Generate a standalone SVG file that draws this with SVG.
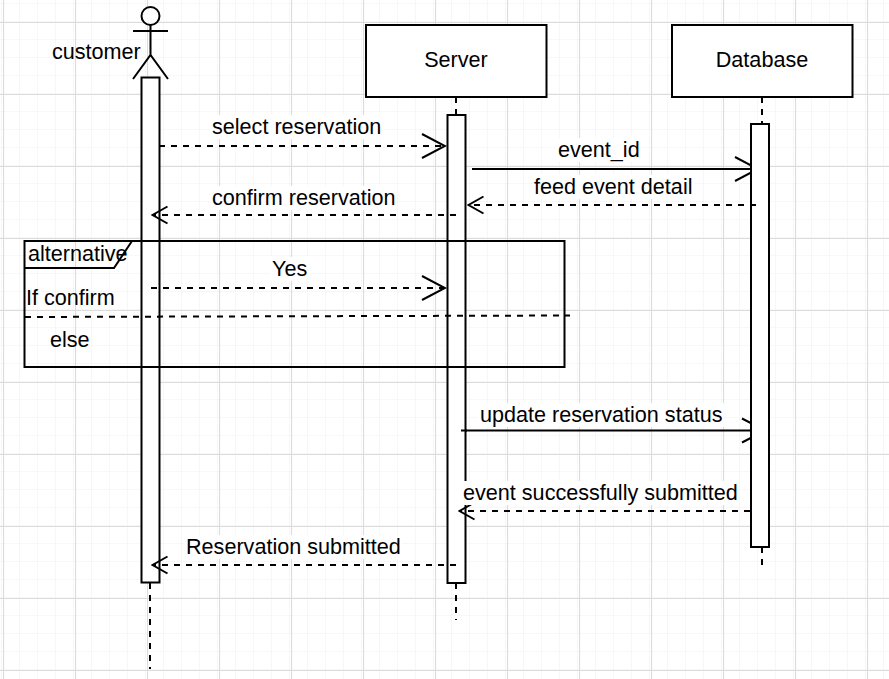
<svg xmlns="http://www.w3.org/2000/svg" width="889" height="679" viewBox="0 0 889 679">
<style>
text{font-family:"Liberation Sans",Arial,sans-serif;font-size:21.6px;fill:#000}
.m{text-anchor:middle}
.box{fill:#fff;stroke:#000;stroke-width:2}
.ln{fill:none;stroke:#000;stroke-width:2}
.d{stroke-dasharray:6 6}
.lbl{fill:#fff;stroke:none}
</style>
<defs>
<pattern id="minor" width="18" height="18" patternUnits="userSpaceOnUse" x="2" y="4"><path d="M18 0V18M0 18H18" fill="none" stroke="#f2f2f2" stroke-width="1.2"/></pattern>
<pattern id="major" width="72" height="72" patternUnits="userSpaceOnUse" x="3" y="22"><path d="M.5 0V72M0 .5H72" fill="none" stroke="#dcdcdc" stroke-width="1.2"/></pattern>
<marker id="big" markerWidth="26" markerHeight="28" refX="24" refY="14" orient="auto" markerUnits="userSpaceOnUse"><path d="M1 2L24 14L1 26" fill="none" stroke="#000" stroke-width="2"/></marker>
<marker id="small" markerWidth="18" markerHeight="20" refX="16" refY="10" orient="auto" markerUnits="userSpaceOnUse"><path d="M1 1.500L16 10L1 18.500" fill="none" stroke="#000" stroke-width="2"/></marker>
</defs>
<rect width="889" height="679" fill="#fff"/>
<rect width="889" height="679" fill="url(#minor)"/>
<rect width="889" height="679" fill="url(#major)"/>

<g id="lifelines">
<path class="ln d" d="M150 583V669M456 97V115M456 583V620M762 97V124M762 547V566"/>
</g>

<g id="connectors-under">
<path class="ln" marker-end="url(#big)" d="M472 169H758"/>
<path class="ln" marker-end="url(#big)" d="M461 430.500H765"/>
</g>

<g id="customer">
<circle cx="150.500" cy="16" r="9" fill="#fff" stroke="#000" stroke-width="2"/>
<path class="ln" d="M150.500 25V55M133 31H168M133 79L150.500 55L168 79"/>
<text x="52" y="59">customer</text>
<rect class="box" x="141.500" y="77.500" width="18" height="505"/>
</g>

<g id="server">
<rect class="box" x="366" y="25" width="180.500" height="72"/>
<text class="m" x="456" y="67">Server</text>
<rect class="box" x="447.500" y="115" width="18" height="468"/>
</g>

<g id="database">
<rect class="box" x="672" y="25" width="180.500" height="72"/>
<text class="m" x="762" y="67">Database</text>
<rect class="box" x="751" y="124" width="18" height="423"/>
</g>

<g id="alt-frame">
<rect x="24.500" y="241" width="540" height="126" fill="none" stroke="#000" stroke-width="2"/>
<path class="ln" d="M24.500 268H114L132 241"/>
</g>

<g id="connectors">
<path class="ln d" marker-end="url(#big)" d="M159 146H445"/>
<path class="ln d" marker-end="url(#small)" d="M756 205H468.500"/>
<path class="ln d" marker-end="url(#small)" d="M456 215H152.500"/>
<path class="ln d" marker-end="url(#big)" d="M151 288H445"/>
<path class="ln d" d="M25 317L570 315.500"/>
<path class="ln" d="M461 430.500H467"/>
<path class="ln d" marker-end="url(#small)" d="M750 511H459.500"/>
<path class="ln d" marker-end="url(#small)" d="M456 565H152.500"/>
</g>

<g id="labels">
<rect class="lbl" x="210" y="115" width="174" height="24"/>
<text x="212" y="134">select reservation</text>
<rect class="lbl" x="556" y="138" width="85" height="24"/>
<text x="558" y="157">event_id</text>
<rect class="lbl" x="532" y="175" width="162" height="24"/>
<text x="534" y="194">feed event detail</text>
<rect class="lbl" x="210" y="186" width="187" height="24"/>
<text x="212" y="205">confirm reservation</text>
<text x="28" y="261">alternative</text>
<rect class="lbl" x="270" y="257" width="39" height="24"/>
<text x="272" y="276">Yes</text>
<text x="26" y="305">If confirm</text>
<text x="50" y="347">else</text>
<rect class="lbl" x="478" y="403" width="246" height="24"/>
<text x="480" y="422">update reservation status</text>
<rect class="lbl" x="463" y="481" width="276" height="24"/>
<text x="463" y="500">event successfully submitted</text>
<rect class="lbl" x="184" y="535" width="218" height="24"/>
<text x="186" y="554">Reservation submitted</text>
</g>
</svg>
